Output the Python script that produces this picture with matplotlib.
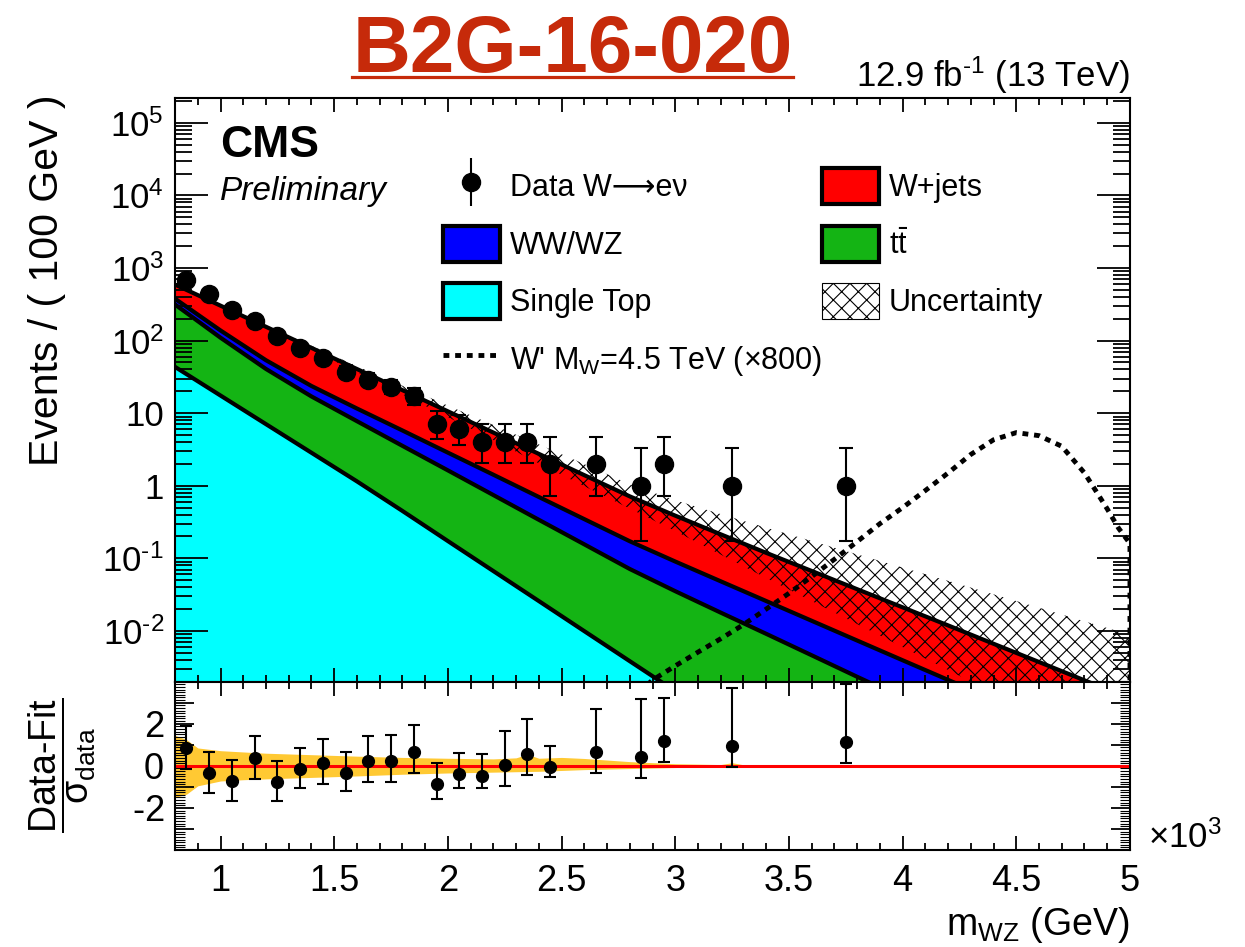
import numpy as np
import matplotlib
matplotlib.use("Agg")
import matplotlib.pyplot as plt
from matplotlib.patches import Patch
from matplotlib.lines import Line2D
from matplotlib.ticker import FixedLocator, MultipleLocator, FuncFormatter, LogLocator, NullFormatter

plt.rcParams['font.family'] = ['Liberation Sans', 'DejaVu Sans']
plt.rcParams['mathtext.fontset'] = 'custom'
plt.rcParams['mathtext.rm'] = 'Liberation Sans'
plt.rcParams['mathtext.it'] = 'Liberation Sans:italic'
plt.rcParams['mathtext.bf'] = 'Liberation Sans:bold'
plt.rcParams['mathtext.sf'] = 'Liberation Sans'
plt.rcParams['hatch.linewidth'] = 0.8

# observed events per 100 GeV bin (empty bins left out)
data_mass = [850, 950, 1050, 1150, 1250, 1350, 1450, 1550, 1650, 1750, 1850,
             1950, 2050, 2150, 2250, 2350, 2450, 2650, 2850, 2950, 3250, 3750]
data_counts = [680, 445, 262, 184, 114, 80, 58, 37, 29, 23, 17,
               7, 6, 4, 4, 4, 2, 2, 1, 2, 1, 1]
# (data - fit) / sigma_data
pull = [0.87, -0.32, -0.72, 0.36, -0.77, -0.17, 0.12, -0.34, 0.23, 0.24, 0.67,
        -0.88, -0.41, -0.46, 0.02, 0.56, -0.05, 0.64, 0.40, 1.19, 0.96, 1.15]

# fitted background components, sampled every 200 GeV
fit_mass = [800, 1000, 1200, 1400, 1600, 1800, 2000, 2200, 2400, 2600, 2800,
            3000, 3200, 3400, 3600, 3800, 4000, 4200, 4400, 4600, 4800, 5000]
wjets = [214, 165, 101.3, 55.7, 29.0, 15.0, 7.74, 3.99, 2.05, 1.053, 0.542,
         0.297, 0.166, 0.0932, 0.0532, 0.0302, 0.0172, 0.0098, 0.00552, 0.00313, 0.00177, 0.00100]
diboson = [63.6, 28.4, 13.0, 6.7, 3.84, 2.23, 1.23, 0.675, 0.361, 0.191, 0.1007,
           0.0551, 0.0304, 0.0167, 0.00918, 0.00504, 0.00275, 0.00151, 0.00083, 0.00045, 0.00024, 0.00013]
ttbar = [270.6, 92.1, 33.6, 14.15, 6.61, 3.10, 1.457, 0.678, 0.314, 0.146, 0.0675,
         0.0338, 0.0173, 0.0089, 0.00453, 0.00230, 0.00118, 0.0006, 0.0003, 0.00015, 0.000075, 0.000038]
single_top = [43.4, 17.5, 7.06, 2.85, 1.15, 0.45, 0.173, 0.0668, 0.0258, 0.00993, 0.00383,
              0.00148, 0.00057, 0.00022, 0.00009, 0.000035, 0.000014, 5e-6, 2e-6, 1e-6, 4e-7, 1.5e-7]
# multiplicative fit uncertainty on the total
fit_unc = [1.03, 1.04, 1.05, 1.07, 1.10, 1.15, 1.20, 1.27, 1.35, 1.42, 1.47,
           1.63, 1.90, 2.22, 2.59, 3.02, 3.53, 4.11, 4.80, 5.60, 6.50, 7.60]

# W' signal shape (x800)
sig_mass = [2800, 2900, 3000, 3100, 3200, 3300, 3400, 3500, 3600, 3700, 3800, 3900, 4000,
            4100, 4200, 4300, 4400, 4500, 4600, 4700, 4800, 4850, 4900, 4950, 5000, 5000]
sig_yield = [0.0011, 0.0021, 0.0033, 0.0051, 0.0078, 0.0122, 0.020, 0.033, 0.056, 0.097, 0.17, 0.30, 0.50,
             0.86, 1.5, 2.7, 4.3, 5.4, 4.9, 3.5, 1.5, 0.85, 0.48, 0.26, 0.16, 0]

# fit uncertainty in the pull panel
band_mass = [800, 850, 900, 1000, 1100, 1200, 1400, 1600, 1800, 2000, 2200, 2300, 2350,
             2400, 2500, 2600, 2800, 3000, 3200, 3250, 3300, 3500, 4000, 5000]
band_hi = [1.45, 1.25, 0.85, 0.72, 0.66, 0.60, 0.53, 0.46, 0.40, 0.36, 0.33, 0.38, 0.55,
           0.36, 0.40, 0.35, 0.20, 0.10, 0.06, 0.15, 0.05, 0.03, 0.02, 0.01]
band_lo = [1.50, 1.35, 0.95, 0.72, 0.66, 0.62, 0.55, 0.48, 0.40, 0.34, 0.30, 0.28, 0.27,
           0.26, 0.22, 0.18, 0.13, 0.08, 0.05, 0.06, 0.04, 0.03, 0.02, 0.01]

RED = '#FF0000'
BLUE = '#0000FF'
GREEN = '#14B414'
CYAN = '#00FFFF'
TITLE_RED = '#C62A0A'


def garwood(n):
    # Wilson-Hilferty approximation of the Poisson 68% interval
    n = np.asarray(n, float)
    lo = n * (1 - 1 / (9 * n) - 1 / (3 * np.sqrt(n))) ** 3
    hi = (n + 1) * (1 - 1 / (9 * (n + 1)) + 1 / (3 * np.sqrt(n + 1))) ** 3
    return lo, hi


x = np.array(fit_mass, float)
total = np.array(wjets) + np.array(diboson) + np.array(ttbar) + np.array(single_top)
top_vv = np.array(diboson) + np.array(ttbar) + np.array(single_top)
top_tt = np.array(ttbar) + np.array(single_top)
top_st = np.array(single_top)
unc = np.array(fit_unc)

n = np.array(data_counts, float)
lo, hi = garwood(n)
err_lo = n - lo
err_hi = hi - n
p = np.array(pull)
r_lo = np.where(p >= 0, 1.0, err_lo / err_hi)
r_hi = np.where(p >= 0, err_hi / err_lo, 1.0)

fig = plt.figure(figsize=(12.45, 9.47), dpi=100)
ax = fig.add_axes([0.1406, 0.2802, 0.767, 0.6163])
ax2 = fig.add_axes([0.1406, 0.1024, 0.767, 0.1778])

ax.set_yscale('log')
ax.set_xlim(800, 5000)
ax.set_ylim(0.002, 2.2e5)

for top, col in [(total, RED), (top_vv, BLUE), (top_tt, GREEN), (top_st, CYAN)]:
    ax.fill_between(x, top, 1e-7, color=col, lw=0, zorder=1)
ax.fill_between(x, total / unc, total * unc, facecolor='none', edgecolor='black',
                hatch='xx', lw=0, zorder=2)
for top in [total, top_vv, top_tt, top_st]:
    ax.plot(x, top, color='black', lw=3, zorder=3)

ax.plot(sig_mass, sig_yield, color='black', lw=3.5, ls=(0, (1.2, 1.2)), zorder=4)

ax.errorbar(data_mass, data_counts, yerr=[err_lo, err_hi], fmt='o', color='black',
            ms=13, elinewidth=1.5, capsize=5, capthick=1.5, zorder=5)

ax.yaxis.set_major_locator(FixedLocator([1e-2, 1e-1, 1, 10, 1e2, 1e3, 1e4, 1e5]))


def logfmt(v, pos):
    e = int(round(np.log10(v)))
    if e == 0:
        return '1'
    if e == 1:
        return '10'
    return r'$10^{\text{%d}}$' % e


ax.yaxis.set_major_formatter(FuncFormatter(logfmt))
ax.yaxis.set_minor_locator(LogLocator(base=10, subs=np.arange(2, 10), numticks=20))
ax.yaxis.set_minor_formatter(NullFormatter())
ax.xaxis.set_major_locator(MultipleLocator(500))
ax.xaxis.set_minor_locator(MultipleLocator(100))
ax.tick_params(axis='both', which='both', direction='in', top=True, right=True,
               width=1.3, labelsize=25)
ax.tick_params(axis='y', which='major', length=24, pad=8)
ax.tick_params(axis='y', which='minor', length=12)
ax.tick_params(axis='x', which='major', length=10, labelbottom=False)
ax.tick_params(axis='x', which='minor', length=5)
for s in ax.spines.values():
    s.set_linewidth(1.5)

ax.text(0.047, 0.899, 'CMS', transform=ax.transAxes, fontsize=32, fontweight='bold')
ax.text(0.047, 0.825, 'Preliminary', transform=ax.transAxes, fontsize=24, style='italic')

data_handle = Line2D([], [], marker='o', ms=13, color='black', ls='none')
bar_handle = Line2D([], [], marker='|', ms=34, mew=1.5, color='black', ls='none')
handles = [
    (bar_handle, data_handle),
    Patch(facecolor=BLUE, edgecolor='black', lw=3),
    Patch(facecolor=CYAN, edgecolor='black', lw=3),
    Line2D([], [], color='black', lw=3.5, ls=(0, (1.2, 1.2))),
    Patch(facecolor=RED, edgecolor='black', lw=3),
    Patch(facecolor=GREEN, edgecolor='black', lw=3),
    Patch(facecolor='white', edgecolor='black', hatch='xx', lw=0.8),
]
labels = ['Data W\u27f6e\u03bd', 'WW/WZ', 'Single Top',
          "W' M$_{\\mathrm{W}}$=4.5 TeV (\u00d7800)",
          'W+jets', r'$\mathrm{t\bar{t}}$', 'Uncertainty']
ax.legend(handles, labels, ncol=2, loc='upper left', bbox_to_anchor=(0.2515, 0.927),
          frameon=False, fontsize=22, handlelength=1.86, handleheight=1.44,
          handletextpad=0.33, labelspacing=0.70, columnspacing=0.0)

# pull panel
ax2.set_xlim(800, 5000)
ax2.set_ylim(-4, 4)
ax2.fill_between(band_mass, -np.array(band_lo), band_hi, color='#FFC933', lw=0, zorder=1)
ax2.axhline(0, color='red', lw=2.2, zorder=2)
ax2.errorbar(data_mass, pull, yerr=[r_lo, r_hi], fmt='o', color='black', ms=8.5,
             elinewidth=1.5, capsize=4, capthick=1.5, zorder=3)
ax2.yaxis.set_major_locator(MultipleLocator(1))
ax2.yaxis.set_minor_locator(MultipleLocator(0.125))
ax2.yaxis.set_major_formatter(FuncFormatter(lambda v, pos: r'$\text{%d}$' % v if round(v) in (-2, 0, 2) else ''))
ax2.xaxis.set_major_locator(MultipleLocator(500))
ax2.xaxis.set_minor_locator(MultipleLocator(100))
ax2.xaxis.set_major_formatter(FuncFormatter(lambda v, pos: '%g' % (v / 1000)))
ax2.tick_params(axis='both', which='both', direction='in', top=True, right=True,
                width=1.3, labelsize=26)
ax2.tick_params(axis='y', which='major', length=14, pad=8)
ax2.tick_params(axis='y', which='minor', length=7, width=0.8)
ax2.tick_params(axis='x', which='major', length=10, pad=10)
ax2.tick_params(axis='x', which='minor', length=5)
for s in ax2.spines.values():
    s.set_linewidth(1.5)

fig.text(1148 / 1245, 1 - 848 / 947, '\u00d710$^{3}$', fontsize=25, va='baseline')
fig.text(0.9076, 1 - 935 / 947, r'm$_{\mathrm{WZ}}$ (GeV)', fontsize=27, ha='right', va='baseline')
fig.text(47 / 1245, 1 - 95 / 947, 'Events / ( 100 GeV )', fontsize=29.5, rotation=90,
         ha='center', va='top')
fig.text(62 / 1245, 1 - 765 / 947,
         r'$\dfrac{\text{Data-Fit}}{\mathrm{\sigma}_{\text{data}}}$',
         fontsize=27, rotation=90, ha='center', va='center')

# header
fig.text(573 / 1245, 1 - 72 / 947, 'B2G-16-020', fontsize=57.6, fontweight='bold',
         color=TITLE_RED, ha='center', va='baseline')
fig.add_artist(Line2D([352 / 1245, 793 / 1245], [1 - 77.5 / 947, 1 - 77.5 / 947],
                      color=TITLE_RED, lw=2.3))
fig.text(0.9076, 1 - 87 / 947, r'12.9 fb$^{\text{-1}}$ (13 TeV)', fontsize=25,
         ha='right', va='baseline')

fig.savefig('out.png', dpi=100)
